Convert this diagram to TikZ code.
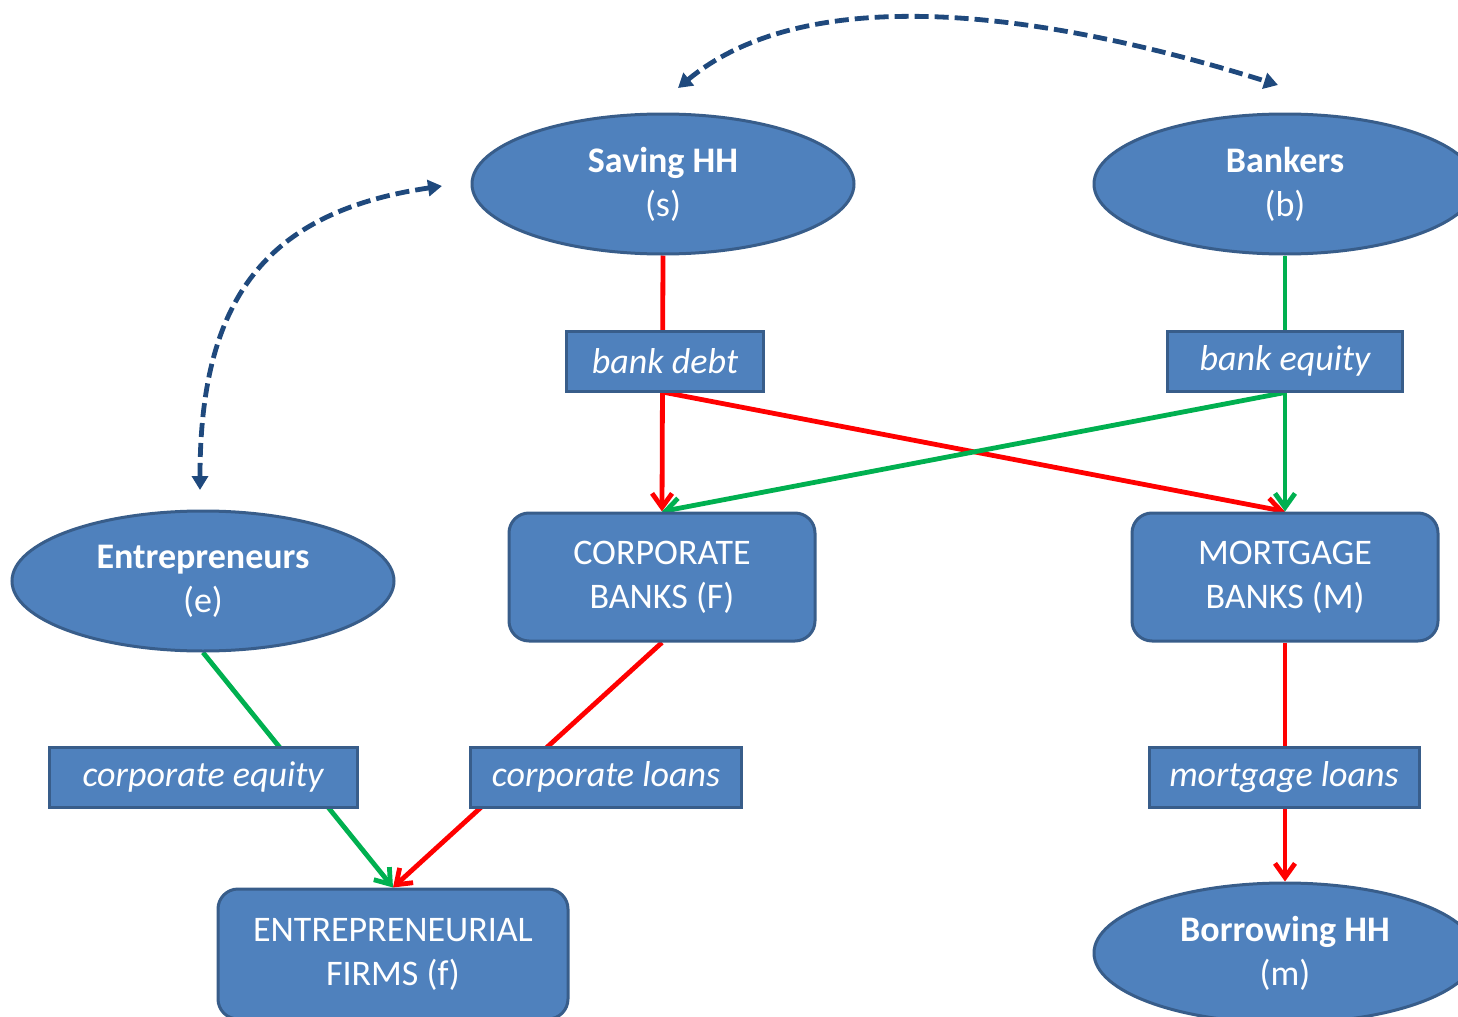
\documentclass[tikz,border=0pt]{standalone}
\usepackage{fontspec}
\setmainfont{Carlito}
\usetikzlibrary{shapes.geometric,arrows.meta,backgrounds}
\definecolor{boxblue}{HTML}{4F81BD}
\definecolor{edgeblue}{HTML}{385D8A}
\definecolor{dashblue}{HTML}{1F497D}
\definecolor{flowred}{HTML}{FF0000}
\definecolor{flowgreen}{HTML}{00B050}
\begin{document}
\begin{tikzpicture}[x=0.5pt,y=-0.5pt,
  agent/.style={ellipse, draw=edgeblue, line width=1.5pt, fill=boxblue, text=white,
    minimum width=191pt, minimum height=70pt, inner sep=0pt, align=center,
    font=\fontsize{18}{22}\selectfont},
  bank/.style={rectangle, rounded corners=10pt, draw=edgeblue, line width=1.5pt, fill=boxblue,
    text=white, minimum width=153pt, minimum height=64pt, inner sep=0pt, align=center,
    font=\fontsize{18}{22}\selectfont},
  asset/.style={rectangle, draw=edgeblue, line width=1.5pt, fill=boxblue, text=white,
    minimum height=30pt, inner sep=0pt, font=\fontsize{18}{22}\selectfont\itshape},
  debtflow/.style={draw=flowred, line width=2.4pt},
  equityflow/.style={draw=flowgreen, line width=2.4pt},
  flowtip/.style={-{Straight Barb[length=7pt,width=10pt]}},
  link/.style={dashblue, line width=2.4pt, dash pattern=on 7pt off 3pt,
    {Triangle[length=7pt,width=8pt]}-{Triangle[length=7pt,width=8pt]}}]
\useasboundingbox (0,0) rectangle (1458,1017);

\node[agent] (saving) at (663,184) {\textbf{Saving HH}\\(s)};
\node[agent] (bankers) at (1285,184) {\textbf{Bankers}\\(b)};
\node[agent] (entre) at (203,581) {\textbf{Entrepreneurs}\\(e)};
\node[agent] (borrow) at (1285,953) {\textbf{Borrowing HH}\\(m)};

\node[asset, minimum width=98.5pt] (debt) at (665,361) {bank debt};
\node[asset, minimum width=117.5pt] (equity) at (1285,361) {bank equity};
\node[asset, minimum width=154pt] (cequity) at (203,777) {corporate equity};
\node[asset, minimum width=135.5pt] (cloans) at (606,777) {corporate loans};
\node[asset, minimum width=135pt] (mloans) at (1284,777) {mortgage loans};

\node[bank] (corpbank) at (662,577) {CORPORATE\\BANKS (F)};
\node[bank] (mortbank) at (1285,577) {MORTGAGE\\BANKS (M)};
\node[bank, minimum width=175pt, minimum height=65pt] (firms) at (393,954) {ENTREPRENEURIAL\\FIRMS (f)};

% flows behind the boxes
\begin{pgfonlayer}{background}
\draw[debtflow, flowtip] (saving.south) -- (corpbank.north);
\draw[debtflow, flowtip] (debt.south) -- (mortbank.north);
\draw[equityflow, flowtip] (bankers.south) -- (mortbank.north);
\draw[equityflow, flowtip] (equity.south) -- (corpbank.north);
\draw[equityflow, flowtip] (entre.south) -- (firms.north);
\draw[debtflow, flowtip] (corpbank.south) -- (firms.north);
\draw[debtflow, flowtip] (mortbank.south) -- (borrow.north);
\end{pgfonlayer}

% links between agents
\coordinate (topL) at (678,88);
\coordinate (topR) at (1278,85);
\coordinate (sideT) at (442,186);
\coordinate (sideB) at (200,490);
\draw[link] (topL) .. controls (790,-5) and (990,-5) .. (topR);
\draw[link] (sideT) .. controls (265,212) and (200,300) .. (sideB);
\end{tikzpicture}
\end{document}
